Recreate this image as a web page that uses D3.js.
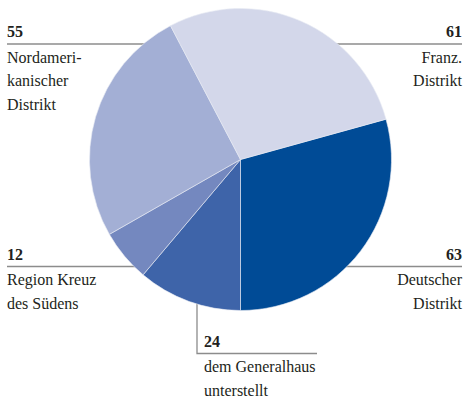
<!DOCTYPE html>
<html>
<head>
<meta charset="utf-8">
<script src="https://cdn.jsdelivr.net/npm/d3@7"></script>
<style>
  body { margin: 0; background: #fff; }
</style>
</head>
<body>
<div id="chart"></div>
<script>
// data, in clockwise order starting with the Deutscher Distrikt slice
var categories = ["Deutscher Distrikt", "dem Generalhaus unterstellt", "Region Kreuz des Südens", "Nordamerikanischer Distrikt", "Franz. Distrikt"];
var values = [63, 24, 12, 55, 61];
var labelLines = [
    ["Deutscher", "Distrikt"],
    ["dem Generalhaus", "unterstellt"],
    ["Region Kreuz", "des Südens"],
    ["Nordameri-", "kanischer", "Distrikt"],
    ["Franz.", "Distrikt"]
];
var colors = ["#004b96", "#3e64a9", "#7488bf", "#a3afd5", "#d3d7ea"];

var w = 464;
var h = 401;
var cx = 240.5;
var cy = 159.5;
var radius = 151;
var font = "'Liberation Serif', 'Times New Roman', 'DejaVu Serif', serif";

var total = d3.sum(values);

// Deutscher slice ends exactly at 6 o'clock
var pie = d3.pie()
    .sort(null)
    .startAngle(Math.PI - values[0] / total * 2 * Math.PI)
    .endAngle(3 * Math.PI - values[0] / total * 2 * Math.PI);

var arc = d3.arc()
    .innerRadius(0)
    .outerRadius(radius);

var svg = d3.select("#chart")
    .append("svg")
    .attr("width", w)
    .attr("height", h);

// label layout: lineY = rule y, side = text alignment
var layout = [
    { x: 462, lineY: 266.5, side: "right" },
    { x: 204, lineY: 353.5, side: "bottom" },
    { x: 7,   lineY: 266.5, side: "left" },
    { x: 7,   lineY: 44,    side: "left" },
    { x: 462, lineY: 44,    side: "right" }
];

var lineColor = "#8c8c8c";

// leader rules (drawn under the pie)
layout.forEach(function(l) {
    if (l.side == "left") {
        svg.append("line")
            .attr("x1", l.x).attr("x2", cx)
            .attr("y1", l.lineY).attr("y2", l.lineY)
            .attr("stroke", lineColor).attr("stroke-width", 1.3);
    } else if (l.side == "right") {
        svg.append("line")
            .attr("x1", cx).attr("x2", l.x)
            .attr("y1", l.lineY).attr("y2", l.lineY)
            .attr("stroke", lineColor).attr("stroke-width", 1.3);
    } else {
        svg.append("path")
            .attr("d", "M" + (l.x - 7) + "," + cy + "V" + l.lineY + "H" + 317)
            .attr("fill", "none")
            .attr("stroke", lineColor).attr("stroke-width", 1.3);
    }
});

svg.append("g")
    .attr("transform", "translate(" + cx + "," + cy + ")")
    .selectAll("path")
    .data(pie(values))
    .enter()
    .append("path")
    .attr("d", arc)
    .attr("fill", function(d, i) { return colors[i]; })
    .attr("stroke", "#e8ebf4")
    .attr("stroke-width", 0.6);

// labels
var labels = svg.selectAll("g.label")
    .data(values)
    .enter()
    .append("g")
    .attr("class", "label");

labels.append("text")
    .attr("x", function(d, i) { return layout[i].x; })
    .attr("y", function(d, i) { return layout[i].lineY - 7; })
    .attr("text-anchor", function(d, i) { return layout[i].side == "right" ? "end" : "start"; })
    .attr("font-family", font)
    .attr("font-size", "16px")
    .attr("font-weight", "bold")
    .attr("fill", "#231f20")
    .text(function(d) { return d; });

labels.each(function(d, i) {
    var g = d3.select(this);
    labelLines[i].forEach(function(t, j) {
        g.append("text")
            .attr("x", layout[i].x)
            .attr("y", layout[i].lineY + 18.5 + j * 23.5)
            .attr("text-anchor", layout[i].side == "right" ? "end" : "start")
            .attr("font-family", font)
            .attr("font-size", "16px")
            .attr("fill", "#231f20")
            .text(t);
    });
});
</script>
</body>
</html>
